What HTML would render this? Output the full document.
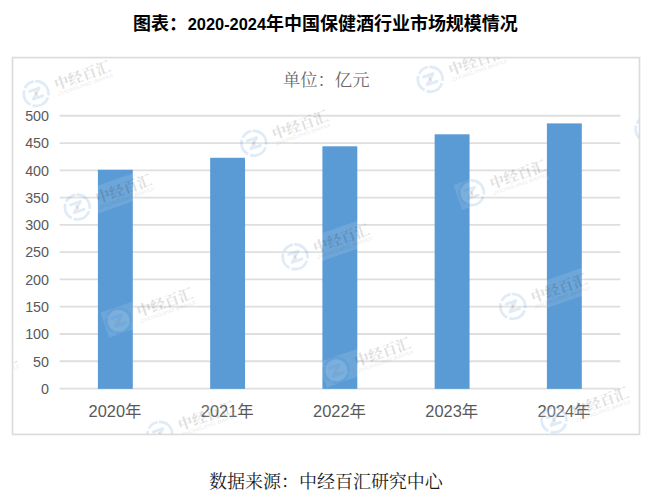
<!DOCTYPE html>
<html lang="zh-CN">
<head>
<meta charset="utf-8">
<title>2020-2024 market size chart</title>
<style>
*{margin:0;padding:0;box-sizing:border-box}
html,body{width:650px;height:499px;background:#fff;overflow:hidden}
body{position:relative;font-family:"Liberation Sans","Noto Sans CJK SC",sans-serif;color:#595959}
svg{position:absolute;display:block;overflow:visible}
.title-num{position:absolute;font-weight:bold;color:#000;white-space:nowrap;line-height:1}
.ylab{position:absolute;right:601px;text-align:right;white-space:nowrap;line-height:1;color:#595959}
.xlab{position:absolute;white-space:nowrap;line-height:1;color:#595959;font-family:"Liberation Sans","Noto Sans CJK SC",sans-serif}
.wm{position:absolute;left:0;top:0}
.wmclip{position:absolute;overflow:hidden}
</style>
</head>
<body>
<svg class="wm" width="650" height="499" viewBox="0 0 650 499" role="img" aria-label="bar chart"><rect x="12.5" y="57.6" width="627.00" height="376.80" fill="#fff" stroke="#dcdcdc" stroke-width="1.7"/><path d="M59.6 388.55H620.3M59.6 361.27H620.3M59.6 333.99H620.3M59.6 306.71H620.3M59.6 279.43H620.3M59.6 252.15H620.3M59.6 224.87H620.3M59.6 197.59H620.3M59.6 170.31H620.3M59.6 143.03H620.3M59.6 115.75H620.3" fill="none" stroke="#dedede" stroke-width="1.8"/><rect x="97.90" y="169.76" width="34.9" height="219.09" fill="#5b9bd5"/><rect x="210.15" y="157.76" width="34.9" height="231.09" fill="#5b9bd5"/><rect x="322.40" y="146.30" width="34.9" height="242.55" fill="#5b9bd5"/><rect x="434.65" y="134.30" width="34.9" height="254.55" fill="#5b9bd5"/><rect x="546.90" y="123.39" width="34.9" height="265.46" fill="#5b9bd5"/></svg>
<div class="ylab" style="top:381.85px;font-size:14.3px">0</div>
<div class="ylab" style="top:354.57px;font-size:14.3px">50</div>
<div class="ylab" style="top:327.29px;font-size:14.3px">100</div>
<div class="ylab" style="top:300.01px;font-size:14.3px">150</div>
<div class="ylab" style="top:272.73px;font-size:14.3px">200</div>
<div class="ylab" style="top:245.45px;font-size:14.3px">250</div>
<div class="ylab" style="top:218.17px;font-size:14.3px">300</div>
<div class="ylab" style="top:190.89px;font-size:14.3px">350</div>
<div class="ylab" style="top:163.61px;font-size:14.3px">400</div>
<div class="ylab" style="top:136.33px;font-size:14.3px">450</div>
<div class="ylab" style="top:109.05px;font-size:14.3px">500</div>
<div class="xlab" style="left:88.56px;top:402.6px;font-size:16.4px">2020年</div>
<div class="xlab" style="left:200.81px;top:402.6px;font-size:16.4px">2021年</div>
<div class="xlab" style="left:313.06px;top:402.6px;font-size:16.4px">2022年</div>
<div class="xlab" style="left:425.31px;top:402.6px;font-size:16.4px">2023年</div>
<div class="xlab" style="left:537.56px;top:402.6px;font-size:16.4px">2024年</div>
<svg class="" style="left:133.00px;top:14.16px" width="54.0" height="20.88" viewBox="0 0 54.0 20.88" role="img" aria-label="图表："><text x="0" y="15.8" font-size="18" font-weight="bold" fill="#000" font-family="'Liberation Sans','Noto Sans CJK SC',sans-serif">图表：</text></svg>
<div class="title-num" style="left:187.70px;top:16.16px;font-size:16.4px">2020-2024</div>
<svg class="" style="left:265.50px;top:14.16px" width="252.0" height="20.88" viewBox="0 0 252.0 20.88" role="img" aria-label="年中国保健酒行业市场规模情况"><text x="0" y="15.8" font-size="18" font-weight="bold" fill="#000" font-family="'Liberation Sans','Noto Sans CJK SC',sans-serif">年中国保健酒行业市场规模情况</text></svg>
<svg class="" style="left:283.0px;top:70.78px" width="86.5" height="20.07" viewBox="0 0 86.5 20.07" role="img" aria-label="单位：亿元"><text x="0" y="15.2" font-size="17.3" fill="#6a6a6a" font-family="'Liberation Serif','Noto Serif CJK SC',serif">单位：亿元</text></svg>
<svg class="" style="left:208.7px;top:472.16px" width="234.0" height="20.88" viewBox="0 0 234.0 20.88" role="img" aria-label="数据来源：中经百汇研究中心"><text x="0" y="15.8" font-size="18" fill="#1a1a1a" font-family="'Liberation Serif','Noto Serif CJK SC',serif">数据来源：中经百汇研究中心</text></svg>
<svg class="wmclip" style="left:13px;top:58px" width="626" height="376" viewBox="13 58 626 376" aria-hidden="true"><g><g transform="translate(36.1 93.6) rotate(-19.4)"><rect x="-14.5" y="-13.5" width="92.5" height="26.5" fill="#fff" opacity="0.11"/><circle r="11" fill="#fff" opacity="0.1"/><g opacity="0.155" fill="none" stroke="#3c8cd7"><circle r="12.4" stroke-width="2.7" stroke-dasharray="22 2.2 19 2.2 17 2.2 11.5 2.2" transform="rotate(-75)"/><path d="M-5.4-4.3H4.6L-4.6 4.3H5.6" stroke-width="2.8" stroke-linejoin="round" stroke-linecap="round"/></g><path d="M-0.6-2.2L0.6 2.4" stroke="#e8905a" stroke-width="1.2" opacity="0.35"/><text x="20.5" y="3.4" opacity="0.125" fill="#000" font-family="'Liberation Serif','Noto Serif CJK SC',serif" font-weight="bold" font-size="14.6">中经百汇</text><text x="20.5" y="9.6" opacity="0.09" fill="#000" font-family="Liberation Sans, sans-serif" font-style="italic" font-size="5" textLength="58" lengthAdjust="spacingAndGlyphs">ZHONGJING BAIHUI</text></g><g transform="translate(77.3 207.1) rotate(-19.4)"><rect x="-14.5" y="-13.5" width="92.5" height="26.5" fill="#fff" opacity="0.11"/><circle r="11" fill="#fff" opacity="0.1"/><g opacity="0.155" fill="none" stroke="#3c8cd7"><circle r="12.4" stroke-width="2.7" stroke-dasharray="22 2.2 19 2.2 17 2.2 11.5 2.2" transform="rotate(-75)"/><path d="M-5.4-4.3H4.6L-4.6 4.3H5.6" stroke-width="2.8" stroke-linejoin="round" stroke-linecap="round"/></g><path d="M-0.6-2.2L0.6 2.4" stroke="#e8905a" stroke-width="1.2" opacity="0.35"/><text x="20.5" y="3.4" opacity="0.125" fill="#000" font-family="'Liberation Serif','Noto Serif CJK SC',serif" font-weight="bold" font-size="14.6">中经百汇</text><text x="20.5" y="9.6" opacity="0.09" fill="#000" font-family="Liberation Sans, sans-serif" font-style="italic" font-size="5" textLength="58" lengthAdjust="spacingAndGlyphs">ZHONGJING BAIHUI</text></g><g transform="translate(253.8 143.2) rotate(-19.4)"><rect x="-14.5" y="-13.5" width="92.5" height="26.5" fill="#fff" opacity="0.11"/><circle r="11" fill="#fff" opacity="0.1"/><g opacity="0.155" fill="none" stroke="#3c8cd7"><circle r="12.4" stroke-width="2.7" stroke-dasharray="22 2.2 19 2.2 17 2.2 11.5 2.2" transform="rotate(-75)"/><path d="M-5.4-4.3H4.6L-4.6 4.3H5.6" stroke-width="2.8" stroke-linejoin="round" stroke-linecap="round"/></g><path d="M-0.6-2.2L0.6 2.4" stroke="#e8905a" stroke-width="1.2" opacity="0.35"/><text x="20.5" y="3.4" opacity="0.125" fill="#000" font-family="'Liberation Serif','Noto Serif CJK SC',serif" font-weight="bold" font-size="14.6">中经百汇</text><text x="20.5" y="9.6" opacity="0.09" fill="#000" font-family="Liberation Sans, sans-serif" font-style="italic" font-size="5" textLength="58" lengthAdjust="spacingAndGlyphs">ZHONGJING BAIHUI</text></g><g transform="translate(430.2 79.2) rotate(-19.4)"><rect x="-14.5" y="-13.5" width="92.5" height="26.5" fill="#fff" opacity="0.11"/><circle r="11" fill="#fff" opacity="0.1"/><g opacity="0.155" fill="none" stroke="#3c8cd7"><circle r="12.4" stroke-width="2.7" stroke-dasharray="22 2.2 19 2.2 17 2.2 11.5 2.2" transform="rotate(-75)"/><path d="M-5.4-4.3H4.6L-4.6 4.3H5.6" stroke-width="2.8" stroke-linejoin="round" stroke-linecap="round"/></g><path d="M-0.6-2.2L0.6 2.4" stroke="#e8905a" stroke-width="1.2" opacity="0.35"/><text x="20.5" y="3.4" opacity="0.125" fill="#000" font-family="'Liberation Serif','Noto Serif CJK SC',serif" font-weight="bold" font-size="14.6">中经百汇</text><text x="20.5" y="9.6" opacity="0.09" fill="#000" font-family="Liberation Sans, sans-serif" font-style="italic" font-size="5" textLength="58" lengthAdjust="spacingAndGlyphs">ZHONGJING BAIHUI</text></g><g transform="translate(-57.8 384.7) rotate(-19.4)"><rect x="-14.5" y="-13.5" width="92.5" height="26.5" fill="#fff" opacity="0.11"/><circle r="11" fill="#fff" opacity="0.1"/><g opacity="0.155" fill="none" stroke="#3c8cd7"><circle r="12.4" stroke-width="2.7" stroke-dasharray="22 2.2 19 2.2 17 2.2 11.5 2.2" transform="rotate(-75)"/><path d="M-5.4-4.3H4.6L-4.6 4.3H5.6" stroke-width="2.8" stroke-linejoin="round" stroke-linecap="round"/></g><path d="M-0.6-2.2L0.6 2.4" stroke="#e8905a" stroke-width="1.2" opacity="0.35"/><text x="20.5" y="3.4" opacity="0.125" fill="#000" font-family="'Liberation Serif','Noto Serif CJK SC',serif" font-weight="bold" font-size="14.6">中经百汇</text><text x="20.5" y="9.6" opacity="0.09" fill="#000" font-family="Liberation Sans, sans-serif" font-style="italic" font-size="5" textLength="58" lengthAdjust="spacingAndGlyphs">ZHONGJING BAIHUI</text></g><g transform="translate(118.6 320.7) rotate(-19.4)"><rect x="-14.5" y="-13.5" width="92.5" height="26.5" fill="#fff" opacity="0.11"/><circle r="11" fill="#fff" opacity="0.1"/><g opacity="0.155" fill="none" stroke="#3c8cd7"><circle r="12.4" stroke-width="2.7" stroke-dasharray="22 2.2 19 2.2 17 2.2 11.5 2.2" transform="rotate(-75)"/><path d="M-5.4-4.3H4.6L-4.6 4.3H5.6" stroke-width="2.8" stroke-linejoin="round" stroke-linecap="round"/></g><path d="M-0.6-2.2L0.6 2.4" stroke="#e8905a" stroke-width="1.2" opacity="0.35"/><text x="20.5" y="3.4" opacity="0.125" fill="#000" font-family="'Liberation Serif','Noto Serif CJK SC',serif" font-weight="bold" font-size="14.6">中经百汇</text><text x="20.5" y="9.6" opacity="0.09" fill="#000" font-family="Liberation Sans, sans-serif" font-style="italic" font-size="5" textLength="58" lengthAdjust="spacingAndGlyphs">ZHONGJING BAIHUI</text></g><g transform="translate(295.1 256.8) rotate(-19.4)"><rect x="-14.5" y="-13.5" width="92.5" height="26.5" fill="#fff" opacity="0.11"/><circle r="11" fill="#fff" opacity="0.1"/><g opacity="0.155" fill="none" stroke="#3c8cd7"><circle r="12.4" stroke-width="2.7" stroke-dasharray="22 2.2 19 2.2 17 2.2 11.5 2.2" transform="rotate(-75)"/><path d="M-5.4-4.3H4.6L-4.6 4.3H5.6" stroke-width="2.8" stroke-linejoin="round" stroke-linecap="round"/></g><path d="M-0.6-2.2L0.6 2.4" stroke="#e8905a" stroke-width="1.2" opacity="0.35"/><text x="20.5" y="3.4" opacity="0.125" fill="#000" font-family="'Liberation Serif','Noto Serif CJK SC',serif" font-weight="bold" font-size="14.6">中经百汇</text><text x="20.5" y="9.6" opacity="0.09" fill="#000" font-family="Liberation Sans, sans-serif" font-style="italic" font-size="5" textLength="58" lengthAdjust="spacingAndGlyphs">ZHONGJING BAIHUI</text></g><g transform="translate(471.5 192.8) rotate(-19.4)"><rect x="-14.5" y="-13.5" width="92.5" height="26.5" fill="#fff" opacity="0.11"/><circle r="11" fill="#fff" opacity="0.1"/><g opacity="0.155" fill="none" stroke="#3c8cd7"><circle r="12.4" stroke-width="2.7" stroke-dasharray="22 2.2 19 2.2 17 2.2 11.5 2.2" transform="rotate(-75)"/><path d="M-5.4-4.3H4.6L-4.6 4.3H5.6" stroke-width="2.8" stroke-linejoin="round" stroke-linecap="round"/></g><path d="M-0.6-2.2L0.6 2.4" stroke="#e8905a" stroke-width="1.2" opacity="0.35"/><text x="20.5" y="3.4" opacity="0.125" fill="#000" font-family="'Liberation Serif','Noto Serif CJK SC',serif" font-weight="bold" font-size="14.6">中经百汇</text><text x="20.5" y="9.6" opacity="0.09" fill="#000" font-family="Liberation Sans, sans-serif" font-style="italic" font-size="5" textLength="58" lengthAdjust="spacingAndGlyphs">ZHONGJING BAIHUI</text></g><g transform="translate(648.0 128.9) rotate(-19.4)"><rect x="-14.5" y="-13.5" width="92.5" height="26.5" fill="#fff" opacity="0.11"/><circle r="11" fill="#fff" opacity="0.1"/><g opacity="0.155" fill="none" stroke="#3c8cd7"><circle r="12.4" stroke-width="2.7" stroke-dasharray="22 2.2 19 2.2 17 2.2 11.5 2.2" transform="rotate(-75)"/><path d="M-5.4-4.3H4.6L-4.6 4.3H5.6" stroke-width="2.8" stroke-linejoin="round" stroke-linecap="round"/></g><path d="M-0.6-2.2L0.6 2.4" stroke="#e8905a" stroke-width="1.2" opacity="0.35"/><text x="20.5" y="3.4" opacity="0.125" fill="#000" font-family="'Liberation Serif','Noto Serif CJK SC',serif" font-weight="bold" font-size="14.6">中经百汇</text><text x="20.5" y="9.6" opacity="0.09" fill="#000" font-family="Liberation Sans, sans-serif" font-style="italic" font-size="5" textLength="58" lengthAdjust="spacingAndGlyphs">ZHONGJING BAIHUI</text></g><g transform="translate(159.9 434.2) rotate(-19.4)"><rect x="-14.5" y="-13.5" width="92.5" height="26.5" fill="#fff" opacity="0.11"/><circle r="11" fill="#fff" opacity="0.1"/><g opacity="0.155" fill="none" stroke="#3c8cd7"><circle r="12.4" stroke-width="2.7" stroke-dasharray="22 2.2 19 2.2 17 2.2 11.5 2.2" transform="rotate(-75)"/><path d="M-5.4-4.3H4.6L-4.6 4.3H5.6" stroke-width="2.8" stroke-linejoin="round" stroke-linecap="round"/></g><path d="M-0.6-2.2L0.6 2.4" stroke="#e8905a" stroke-width="1.2" opacity="0.35"/><text x="20.5" y="3.4" opacity="0.125" fill="#000" font-family="'Liberation Serif','Noto Serif CJK SC',serif" font-weight="bold" font-size="14.6">中经百汇</text><text x="20.5" y="9.6" opacity="0.09" fill="#000" font-family="Liberation Sans, sans-serif" font-style="italic" font-size="5" textLength="58" lengthAdjust="spacingAndGlyphs">ZHONGJING BAIHUI</text></g><g transform="translate(336.3 370.3) rotate(-19.4)"><rect x="-14.5" y="-13.5" width="92.5" height="26.5" fill="#fff" opacity="0.11"/><circle r="11" fill="#fff" opacity="0.1"/><g opacity="0.155" fill="none" stroke="#3c8cd7"><circle r="12.4" stroke-width="2.7" stroke-dasharray="22 2.2 19 2.2 17 2.2 11.5 2.2" transform="rotate(-75)"/><path d="M-5.4-4.3H4.6L-4.6 4.3H5.6" stroke-width="2.8" stroke-linejoin="round" stroke-linecap="round"/></g><path d="M-0.6-2.2L0.6 2.4" stroke="#e8905a" stroke-width="1.2" opacity="0.35"/><text x="20.5" y="3.4" opacity="0.125" fill="#000" font-family="'Liberation Serif','Noto Serif CJK SC',serif" font-weight="bold" font-size="14.6">中经百汇</text><text x="20.5" y="9.6" opacity="0.09" fill="#000" font-family="Liberation Sans, sans-serif" font-style="italic" font-size="5" textLength="58" lengthAdjust="spacingAndGlyphs">ZHONGJING BAIHUI</text></g><g transform="translate(512.8 306.4) rotate(-19.4)"><rect x="-14.5" y="-13.5" width="92.5" height="26.5" fill="#fff" opacity="0.11"/><circle r="11" fill="#fff" opacity="0.1"/><g opacity="0.155" fill="none" stroke="#3c8cd7"><circle r="12.4" stroke-width="2.7" stroke-dasharray="22 2.2 19 2.2 17 2.2 11.5 2.2" transform="rotate(-75)"/><path d="M-5.4-4.3H4.6L-4.6 4.3H5.6" stroke-width="2.8" stroke-linejoin="round" stroke-linecap="round"/></g><path d="M-0.6-2.2L0.6 2.4" stroke="#e8905a" stroke-width="1.2" opacity="0.35"/><text x="20.5" y="3.4" opacity="0.125" fill="#000" font-family="'Liberation Serif','Noto Serif CJK SC',serif" font-weight="bold" font-size="14.6">中经百汇</text><text x="20.5" y="9.6" opacity="0.09" fill="#000" font-family="Liberation Sans, sans-serif" font-style="italic" font-size="5" textLength="58" lengthAdjust="spacingAndGlyphs">ZHONGJING BAIHUI</text></g><g transform="translate(554.0 419.9) rotate(-19.4)"><rect x="-14.5" y="-13.5" width="92.5" height="26.5" fill="#fff" opacity="0.11"/><circle r="11" fill="#fff" opacity="0.1"/><g opacity="0.155" fill="none" stroke="#3c8cd7"><circle r="12.4" stroke-width="2.7" stroke-dasharray="22 2.2 19 2.2 17 2.2 11.5 2.2" transform="rotate(-75)"/><path d="M-5.4-4.3H4.6L-4.6 4.3H5.6" stroke-width="2.8" stroke-linejoin="round" stroke-linecap="round"/></g><path d="M-0.6-2.2L0.6 2.4" stroke="#e8905a" stroke-width="1.2" opacity="0.35"/><text x="20.5" y="3.4" opacity="0.125" fill="#000" font-family="'Liberation Serif','Noto Serif CJK SC',serif" font-weight="bold" font-size="14.6">中经百汇</text><text x="20.5" y="9.6" opacity="0.09" fill="#000" font-family="Liberation Sans, sans-serif" font-style="italic" font-size="5" textLength="58" lengthAdjust="spacingAndGlyphs">ZHONGJING BAIHUI</text></g></g></svg>
</body>
</html>
